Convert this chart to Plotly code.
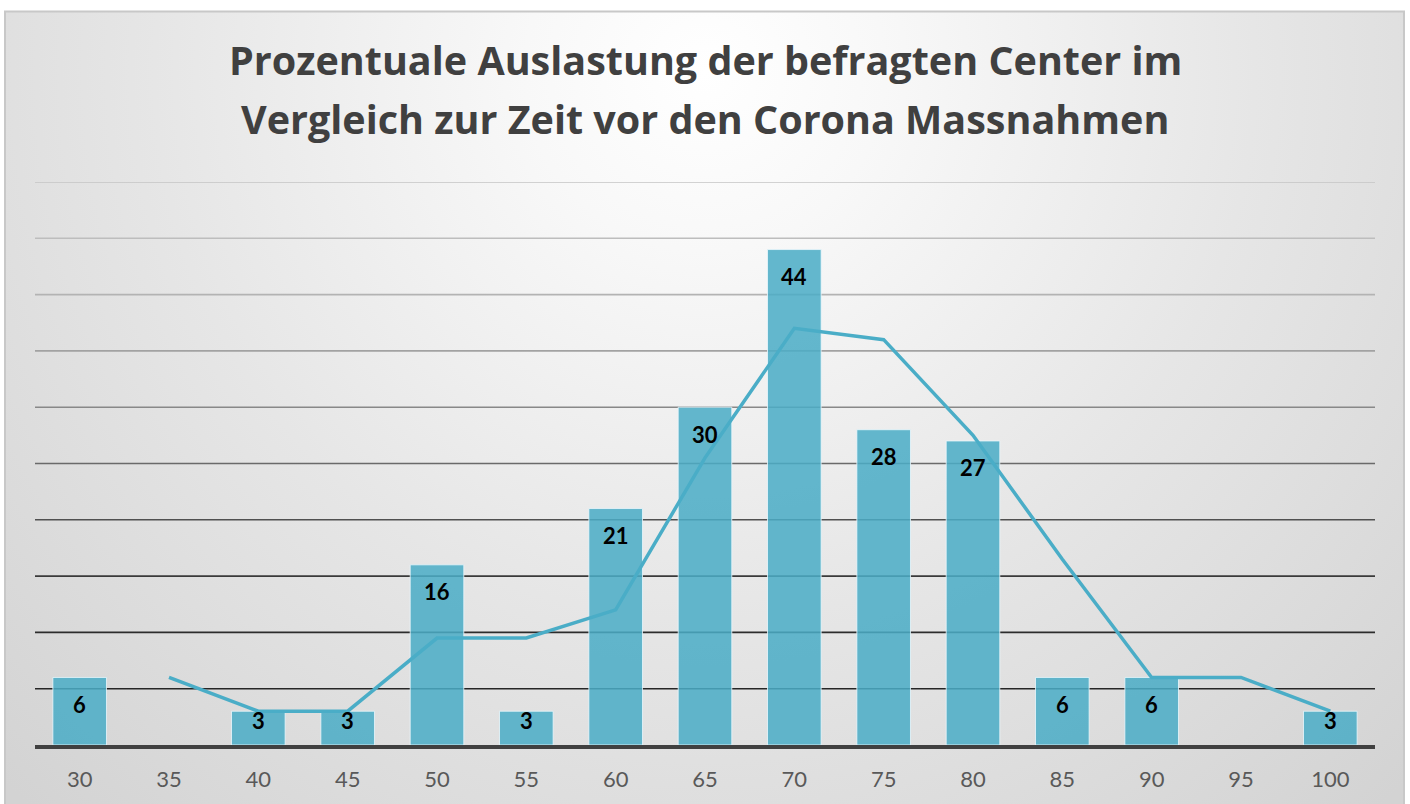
import base64
import plotly.graph_objects as go

# ---- data ----
categories = [30, 35, 40, 45, 50, 55, 60, 65, 70, 75, 80, 85, 90, 95, 100]
counts = [6, None, 3, 3, 16, 3, 21, 30, 44, 28, 27, 6, 6, None, 3]
trend = [None, 6, 3, 3, 9.5, 9.5, 12, 25.5, 37, 36, 27.5, 16.5, 6, 6, 3]
grid_values = [5, 10, 15, 20, 25, 30, 35, 40, 45, 50]
title_lines = ["Prozentuale Auslastung der befragten Center im",
               "Vergleich zur Zeit vor den Corona Massnahmen"]

# ---- styling ----
W, H = 1410, 804
ML, MR, MT, MB = 35, 35, 182, 57
PW, PH = W - ML - MR, H - MT - MB
STEP = 5
BAR_COLOR = "rgba(75,172,198,0.86)"
LINE_COLOR = "#4aadc7"
FONT = "Lato"
TITLE_FONT = "Open Sans"
grid_colors = ["#262626", "#2c2c2c", "#3a3a3a", "#505050", "#6a6a6a",
               "#888888", "#a2a2a2", "#b3b3b3", "#bdbdbd", "#c4c4c4"]


def px_to_paper_x(px):
    return (px - ML) / PW


def px_to_paper_y(py):
    return (H - MB - py) / PH


svg = """<svg xmlns="http://www.w3.org/2000/svg" width="1400" height="800" viewBox="0 0 1400 800" preserveAspectRatio="none">
<defs><radialGradient id="g" gradientUnits="userSpaceOnUse" cx="700" cy="60" r="1000">
<stop offset="0" stop-color="#ffffff"/>
<stop offset="0.18" stop-color="#f8f8f8"/>
<stop offset="0.55" stop-color="#e6e6e6"/>
<stop offset="1" stop-color="#d3d3d3"/>
</radialGradient></defs>
<rect x="0" y="0" width="1400" height="800" fill="url(#g)"/></svg>"""
bg_src = "data:image/svg+xml;base64," + base64.b64encode(svg.encode()).decode()

fig = go.Figure()
fig.add_trace(go.Bar(
    x=categories, y=counts,
    marker=dict(color=BAR_COLOR, line=dict(color="rgba(235,248,252,0.8)", width=1)),
    width=STEP * 0.6, hoverinfo="x+y", showlegend=False,
))
fig.add_trace(go.Scatter(
    x=categories, y=trend, mode="lines",
    line=dict(color=LINE_COLOR, width=3.5),
    connectgaps=False, showlegend=False,
))

# data labels inside bar tops
for c, v in zip(categories, counts):
    if v is None:
        continue
    fig.add_annotation(
        x=c, y=v, xref="x", yref="y", text=f"<b>{v}</b>", showarrow=False,
        yanchor="middle", yshift=-27 if v > 4 else -9,
        font=dict(family=FONT, size=22, color="#000000"),
    )

# title lines
for t, py in zip(title_lines, [60, 119]):
    fig.add_annotation(
        x=0.5, y=px_to_paper_y(py), xref="paper", yref="paper",
        text=f"<b>{t}</b>", showarrow=False, yanchor="middle", xanchor="center",
        font=dict(family=TITLE_FONT, size=39.5, color="#404040"),
    )

shapes = []
for gv, gc in zip(grid_values, grid_colors):
    shapes.append(dict(type="line", xref="paper", yref="y", x0=0, x1=1, y0=gv, y1=gv,
                       line=dict(color=gc, width=1.6), layer="below"))
# outer chart frame
shapes.append(dict(type="rect", xref="paper", yref="paper",
                   x0=px_to_paper_x(5), x1=px_to_paper_x(1404),
                   y0=px_to_paper_y(812), y1=px_to_paper_y(11),
                   line=dict(color="#c8c8c8", width=2), fillcolor="rgba(0,0,0,0)", layer="above"))

fig.update_layout(
    width=W, height=H,
    margin=dict(l=ML, r=MR, t=MT, b=MB, pad=0),
    paper_bgcolor="#ffffff", plot_bgcolor="rgba(0,0,0,0)",
    shapes=shapes,
    images=[dict(source=bg_src, xref="paper", yref="paper",
                 x=px_to_paper_x(5), y=px_to_paper_y(11),
                 sizex=1400 / PW, sizey=800 / PH, sizing="stretch",
                 xanchor="left", yanchor="top", layer="below")],
    xaxis=dict(type="linear", range=[categories[0] - STEP / 2, categories[-1] + STEP / 2],
               tickmode="array", tickvals=categories, ticktext=[str(c) for c in categories],
               showgrid=False, zeroline=False,
               showline=True, linecolor="#404040", linewidth=4,
               ticks="", ticklabelstandoff=12,
               tickfont=dict(family=FONT, size=22, color="#595959")),
    yaxis=dict(range=[0, 50], showgrid=False, zeroline=False, showticklabels=False,
               ticks="", showline=False),
    font=dict(family=FONT),
)

fig.write_html("out.html", config={"displayModeBar": False},
               post_script="document.body.style.margin='0';")
